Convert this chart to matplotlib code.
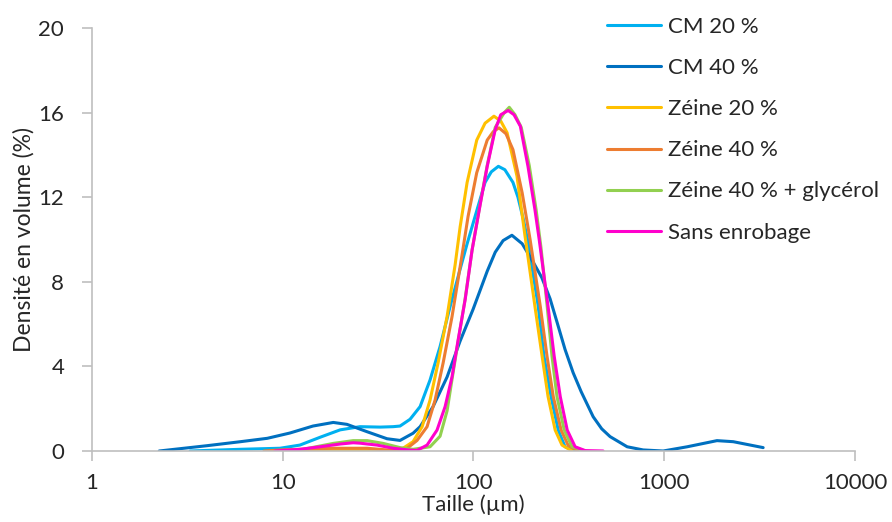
import matplotlib
matplotlib.use("Agg")
import matplotlib.pyplot as plt
from matplotlib.ticker import FixedLocator, FixedFormatter, NullLocator

plt.rcParams['font.family'] = ['Lato', 'DejaVu Sans']

# ---- data (size in µm, volume density in %) ----
cm20_x = [3.27, 5.97, 9.68, 12.3, 15.7, 20.0, 25.4, 32.4, 37.9, 41.2, 46.5, 52.5, 59.2, 66.8,
          75.4, 85.1, 92.6, 102, 115, 124, 135, 146, 161, 171, 182, 193, 205, 218, 234, 255,
          278, 302, 341]
cm20_y = [0, 0.08, 0.13, 0.28, 0.65, 1.0, 1.15, 1.13, 1.15, 1.18, 1.5, 2.1, 3.36, 4.94,
          6.83, 8.6, 9.8, 11.1, 12.7, 13.2, 13.46, 13.3, 12.7, 12.0, 11.0, 9.9, 8.4, 6.9, 4.5, 2.57,
          0.99, 0.2, 0]

cm40_x = [2.25, 4.0, 6.0, 8.3, 10.9, 14.4, 18.4, 21.7, 27.7, 35.2, 41.2, 48.2, 52.5, 61.4,
          72.7, 85.1, 99.5, 118, 130, 143, 159, 180, 205, 228, 252, 276, 302, 333, 367, 424,
          470, 520, 639, 775, 987, 1320, 1890, 2300, 3300]
cm40_y = [0, 0.25, 0.44, 0.6, 0.85, 1.18, 1.35, 1.26, 0.91, 0.58, 0.5, 0.84, 1.15, 2.1,
          3.5, 5.2, 6.7, 8.5, 9.4, 9.95, 10.2, 9.8, 8.95, 8.2, 7.2, 6.0, 4.8, 3.7, 2.8, 1.62,
          1.05, 0.68, 0.2, 0.05, 0.0, 0.2, 0.49, 0.44, 0.16]

z20_x = [9.7, 15.0, 25.0, 35.0, 40.0, 42.7, 48.2, 53.8, 59.2, 65.2, 72.7, 80.1, 85.1, 92.6,
         104, 115, 128, 139, 150, 169, 186, 210, 229, 246, 268, 291, 329]
z20_y = [0, 0.02, 0.04, 0.02, 0.03, 0.13, 0.44, 1.15, 2.41, 4.16, 6.36, 8.8, 10.6, 12.7,
         14.7, 15.5, 15.83, 15.6, 15.05, 13.0, 10.2, 6.83, 4.47, 2.57, 0.99, 0.28, 0]

z40_x = [7.98, 9.7, 18.4, 27.7, 35.2, 41.2, 44.9, 50.6, 57.1, 62.9, 69.3, 77.2, 87.2, 93.7,
         104, 118, 127, 136, 148, 161, 180, 198, 224, 243, 262, 288, 313, 354]
z40_y = [0, 0.05, 0.13, 0.13, 0.05, 0.02, 0.13, 0.5, 1.15, 2.41, 4.16, 6.36, 9.3, 11.1,
         13.16, 14.7, 15.1, 15.28, 15.0, 14.25, 12.2, 10.0, 6.83, 4.47, 2.57, 0.99, 0.28, 0]

z40g_x = [10.0, 12.3, 18.4, 23.4, 27.7, 33.6, 41.2, 48.2, 59.2, 66.8, 72.7, 77.2, 83.1, 90.4,
          98.3, 108, 118, 130, 145, 154, 165, 178, 196, 213, 226, 243, 258, 274, 299, 329, 385]
z40g_y = [0, 0.05, 0.36, 0.49, 0.49, 0.36, 0.16, 0.08, 0.2, 0.7, 1.9, 3.4, 5.2, 7.2,
          9.5, 11.6, 13.5, 15.3, 16.0, 16.25, 15.9, 15.3, 13.5, 11.4, 9.6, 6.9, 4.47, 2.57, 0.99, 0.2, 0]

sans_x = [9.11, 12.3, 15.7, 20.0, 23.4, 25.4, 31.2, 37.9, 46.5, 50.6, 57.1, 64.4, 71.0, 77.2,
          83.1, 90.4, 98.3, 108, 118, 130, 139, 152, 163, 176, 193, 210, 221, 246, 265, 285,
          310, 341, 385, 478]
sans_y = [0, 0.08, 0.2, 0.33, 0.39, 0.37, 0.28, 0.13, 0.04, 0.03, 0.28, 0.99, 2.1, 3.52,
          5.26, 7.15, 9.5, 11.57, 13.46, 15.2, 15.9, 16.1, 15.9, 15.36, 13.46, 11.4, 10.0, 6.83, 4.47, 2.57,
          0.99, 0.2, 0.02, 0]

series = [
    ("CM 20 %", cm20_x, cm20_y, "#00B0F0"),
    ("CM 40 %", cm40_x, cm40_y, "#0070C0"),
    ("Zéine 20 %", z20_x, z20_y, "#FFC000"),
    ("Zéine 40 %", z40_x, z40_y, "#ED7D31"),
    ("Zéine 40 % + glycérol", z40g_x, z40g_y, "#92D050"),
    ("Sans enrobage", sans_x, sans_y, "#FF00CC"),
]

x_ticks = [1, 10, 100, 1000, 10000]
x_labels = ["1", "10", "100", "1000", "10000"]
y_ticks = [0, 4, 8, 12, 16, 20]

txt = "#262626"
gray = "#BFBFBF"

fig = plt.figure(figsize=(8.92, 5.22), dpi=100)
ax = fig.add_axes([92/892, 1-451/522, (855-92)/892, (451-28)/522])

for name, xs, ys, c in series:
    ax.plot(xs, ys, color=c, lw=2.2, label=name, solid_capstyle='round', solid_joinstyle='round')

ax.set_xscale('log')
ax.set_xlim(1, 10000)
ax.set_ylim(0, 20)
ax.xaxis.set_major_locator(FixedLocator(x_ticks))
ax.xaxis.set_major_formatter(FixedFormatter(x_labels))
ax.xaxis.set_minor_locator(NullLocator())
ax.set_yticks(y_ticks)

for s in ['top', 'right']:
    ax.spines[s].set_visible(False)
for s in ['left', 'bottom']:
    ax.spines[s].set_color(gray)
    ax.spines[s].set_linewidth(1.2)
ax.tick_params(axis='both', color=gray, labelcolor=txt, labelsize=16, length=7, width=1.2)
ax.tick_params(axis='x', pad=9)
ax.tick_params(axis='y', pad=13)

ax.set_xlabel("Taille (µm)", fontsize=16, color=txt, labelpad=1)
ax.set_ylabel("Densité en volume (%)", fontsize=16.5, color=txt, labelpad=3)

leg = fig.legend(loc='upper left', bbox_to_anchor=(607/892, 1-17/522), frameon=False,
                 handlelength=2.45, handletextpad=0.3, labelspacing=0.95,
                 borderpad=0, borderaxespad=0, prop={'size': 16})
for t in leg.get_texts():
    t.set_color(txt)

fig.savefig("out.png", dpi=100)
